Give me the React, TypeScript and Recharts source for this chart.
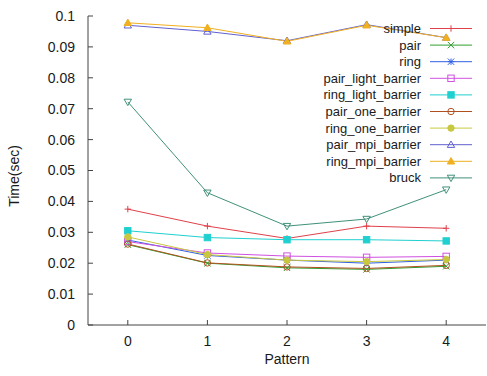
import React from "react";
import { LineChart, Line, XAxis, YAxis, Legend } from "recharts";

// pattern index on the x axis
const patterns = [0, 1, 2, 3, 4];

// time in seconds, one array per method
const simple = [0.0375, 0.032, 0.028, 0.032, 0.0313];
const pair = [0.026, 0.02, 0.0185, 0.018, 0.019];
const ring = [0.0275, 0.0225, 0.021, 0.02, 0.021];
const pairLightBarrier = [0.027, 0.0233, 0.0223, 0.0219, 0.0222];
const ringLightBarrier = [0.0305, 0.0283, 0.0276, 0.0276, 0.0272];
const pairOneBarrier = [0.0262, 0.0201, 0.0188, 0.0183, 0.0193];
const ringOneBarrier = [0.0285, 0.0228, 0.021, 0.0205, 0.0212];
const pairMpiBarrier = [0.097, 0.095, 0.092, 0.0972, 0.093];
const ringMpiBarrier = [0.0978, 0.0962, 0.0918, 0.097, 0.093];
const bruck = [0.0722, 0.0428, 0.032, 0.0343, 0.0438];

const yTicks = [0, 0.01, 0.02, 0.03, 0.04, 0.05, 0.06, 0.07, 0.08, 0.09, 0.1];

type MarkerType =
  | "plus"
  | "cross"
  | "star"
  | "square"
  | "filledSquare"
  | "circle"
  | "filledCircle"
  | "triangle"
  | "filledTriangle"
  | "invTriangle";

const series: { key: string; name: string; color: string; marker: MarkerType; values: number[] }[] = [
  { key: "simple", name: "simple", color: "#e0404a", marker: "plus", values: simple },
  { key: "pair", name: "pair", color: "#30a030", marker: "cross", values: pair },
  { key: "ring", name: "ring", color: "#3060e0", marker: "star", values: ring },
  { key: "pairLight", name: "pair_light_barrier", color: "#d050e0", marker: "square", values: pairLightBarrier },
  { key: "ringLight", name: "ring_light_barrier", color: "#20d0d0", marker: "filledSquare", values: ringLightBarrier },
  { key: "pairOne", name: "pair_one_barrier", color: "#b05020", marker: "circle", values: pairOneBarrier },
  { key: "ringOne", name: "ring_one_barrier", color: "#c8c840", marker: "filledCircle", values: ringOneBarrier },
  { key: "pairMpi", name: "pair_mpi_barrier", color: "#6060d0", marker: "triangle", values: pairMpiBarrier },
  { key: "ringMpi", name: "ring_mpi_barrier", color: "#f0b020", marker: "filledTriangle", values: ringMpiBarrier },
  { key: "bruck", name: "bruck", color: "#40907a", marker: "invTriangle", values: bruck },
];

const data = patterns.map((p, i) => {
  const row: Record<string, number> = { pattern: p };
  series.forEach((s) => (row[s.key] = s.values[i]));
  return row;
});

function Marker({ type, x, y, color }: { type: MarkerType; x: number; y: number; color: string }) {
  const r = 3.2;
  const sw = 1;
  switch (type) {
    case "plus":
      return (
        <g stroke={color} strokeWidth={sw}>
          <line x1={x - r} y1={y} x2={x + r} y2={y} />
          <line x1={x} y1={y - r} x2={x} y2={y + r} />
        </g>
      );
    case "cross":
      return (
        <g stroke={color} strokeWidth={sw}>
          <line x1={x - r} y1={y - r} x2={x + r} y2={y + r} />
          <line x1={x - r} y1={y + r} x2={x + r} y2={y - r} />
        </g>
      );
    case "star":
      return (
        <g stroke={color} strokeWidth={sw}>
          <line x1={x - r} y1={y} x2={x + r} y2={y} />
          <line x1={x} y1={y - r} x2={x} y2={y + r} />
          <line x1={x - r} y1={y - r} x2={x + r} y2={y + r} />
          <line x1={x - r} y1={y + r} x2={x + r} y2={y - r} />
        </g>
      );
    case "square":
    case "filledSquare":
      return (
        <rect
          x={x - r}
          y={y - r}
          width={2 * r}
          height={2 * r}
          fill={type === "filledSquare" ? color : "none"}
          stroke={color}
          strokeWidth={sw}
        />
      );
    case "circle":
    case "filledCircle":
      return <circle cx={x} cy={y} r={r} fill={type === "filledCircle" ? color : "none"} stroke={color} strokeWidth={sw} />;
    case "triangle":
    case "filledTriangle":
      return (
        <polygon
          points={`${x},${y - r - 0.5} ${x - r - 0.5},${y + r - 0.5} ${x + r + 0.5},${y + r - 0.5}`}
          fill={type === "filledTriangle" ? color : "none"}
          stroke={color}
          strokeWidth={sw}
        />
      );
    case "invTriangle":
      return (
        <polygon
          points={`${x},${y + r + 0.5} ${x - r - 0.5},${y - r + 0.5} ${x + r + 0.5},${y - r + 0.5}`}
          fill="none"
          stroke={color}
          strokeWidth={sw}
        />
      );
  }
  return null;
}

function LegendBox() {
  return (
    <svg width={487} height={200} style={{ display: "block" }}>
      {series.map((s, i) => {
        const y = 28.5 + i * 16.6;
        return (
          <g key={s.key}>
            <text x={421} y={y} textAnchor="end" dominantBaseline="central" fontSize={13} fill="#1a1a1a">
              {s.name}
            </text>
            <line x1={430} y1={y} x2={472} y2={y} stroke={s.color} strokeWidth={1} />
            <Marker type={s.marker} x={451} y={y} color={s.color} />
          </g>
        );
      })}
    </svg>
  );
}

const fmtY = (v: number) => (v === 0 ? "0" : String(+v.toFixed(2)));

export default function App() {
  return (
    <div style={{ position: "absolute", left: 0, top: 0 }}>
      <LineChart
        width={487}
        height={376}
        data={data}
        margin={{ top: 16, right: 1, left: 0, bottom: 0 }}
        style={{ fontFamily: "'Liberation Sans', Arial, sans-serif", background: "#fff" }}
      >
        <XAxis
          xAxisId="b"
          dataKey="pattern"
          type="number"
          domain={[-0.5, 4.5]}
          ticks={patterns}
          height={51}
          tickSize={-5}
          tickMargin={16}
          stroke="#444"
          tick={{ fill: "#1a1a1a", fontSize: 14 }}
          label={{ value: "Pattern", position: "insideBottom", offset: 12, fill: "#1a1a1a", fontSize: 14 }}
        />
        <XAxis
          xAxisId="t"
          orientation="top"
          dataKey="pattern"
          type="number"
          domain={[-0.5, 4.5]}
          ticks={patterns}
          height={0}
          tickSize={-5}
          tick={false}
          stroke="#444"
        />
        <YAxis
          yAxisId="l"
          domain={[0, 0.1]}
          ticks={yTicks}
          width={88}
          tickSize={-5}
          tickMargin={18}
          stroke="#444"
          tickFormatter={fmtY}
          tick={{ fill: "#1a1a1a", fontSize: 14 }}
          label={{
            content: () => (
              <text x={19} y={176} transform="rotate(-90 19 176)" textAnchor="middle" fontSize={14} fill="#1a1a1a">
                Time(sec)
              </text>
            ),
          }}
        />
        <YAxis
          yAxisId="r"
          orientation="right"
          domain={[0, 0.1]}
          ticks={yTicks}
          width={0}
          tickSize={-5}
          tick={false}
          stroke="#444"
        />
        <Legend
          layout="vertical"
          align="center"
          verticalAlign="middle"
          wrapperStyle={{ position: "absolute", left: 0, top: 0, width: 487, height: 200 }}
          content={() => <LegendBox />}
        />
        {series.map((s) => (
          <Line
            key={s.key}
            xAxisId="b"
            yAxisId="l"
            type="linear"
            dataKey={s.key}
            name={s.name}
            stroke={s.color}
            strokeWidth={1}
            isAnimationActive={false}
            dot={(p: any) => <Marker key={`${s.key}-${p.index}`} type={s.marker} x={p.cx} y={p.cy} color={s.color} />}
            activeDot={false}
          />
        ))}
      </LineChart>
    </div>
  );
}
